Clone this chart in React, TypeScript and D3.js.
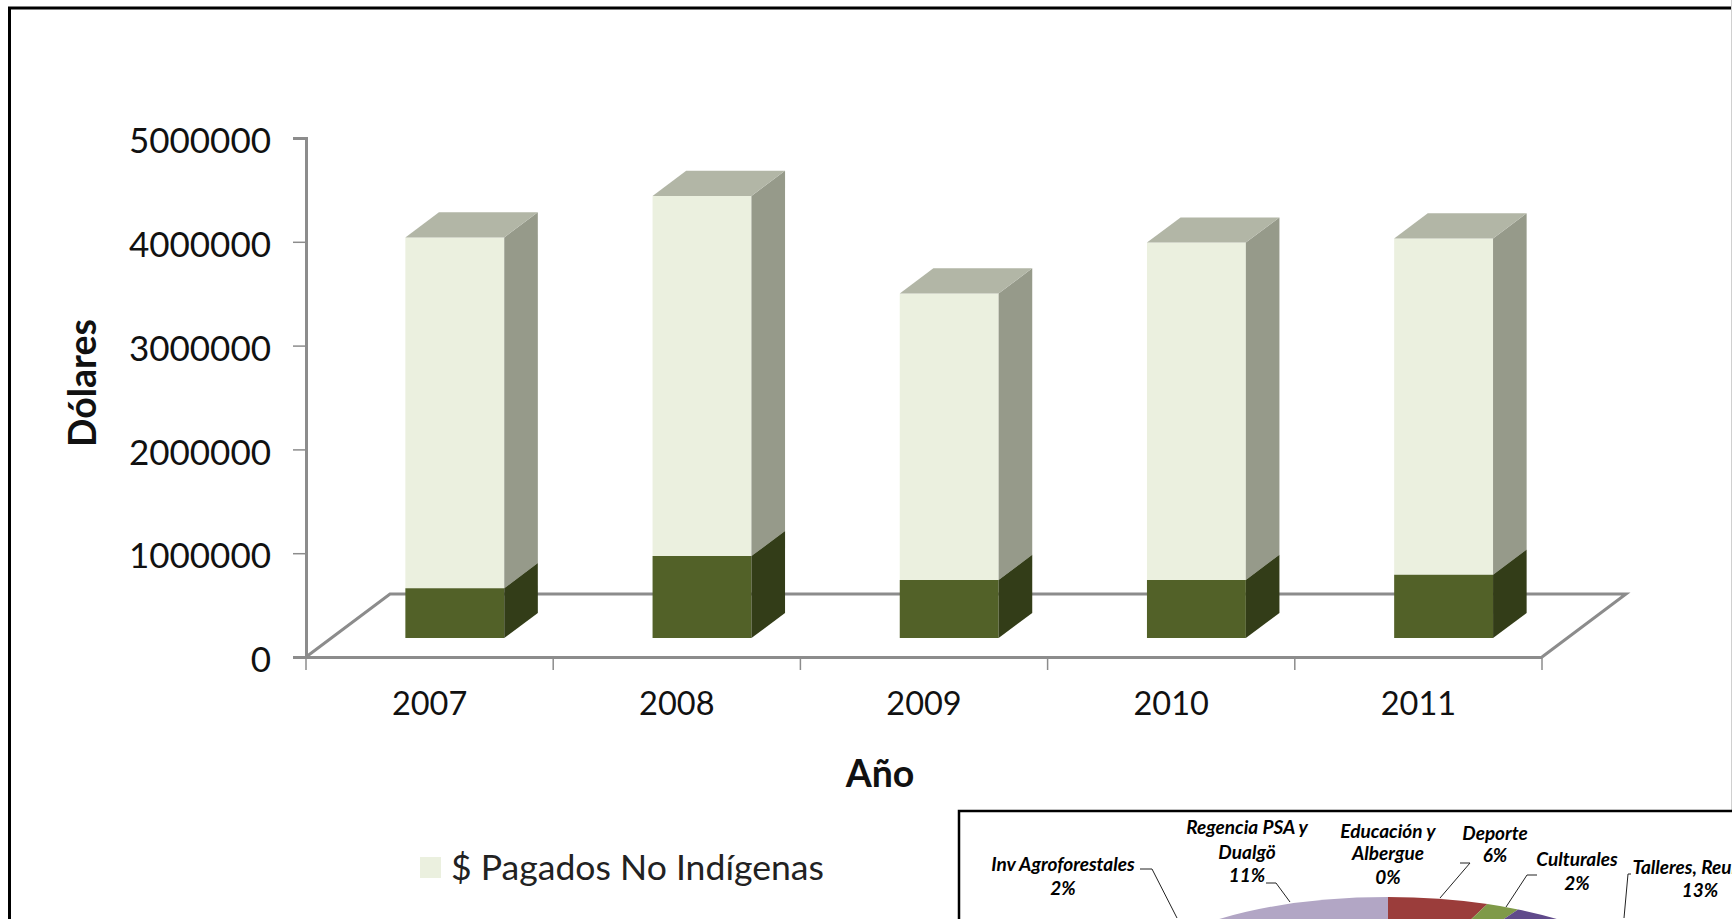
import * as d3 from "d3";
import { useEffect, useRef } from "react";

const years = ["2007", "2008", "2009", "2010", "2011"];
const indigenas = [480000, 790000, 560000, 560000, 610000];
const noIndigenas = [3380000, 3470000, 2760000, 3250000, 3240000];
const yTicks = [0, 1000000, 2000000, 3000000, 4000000, 5000000];

// clockwise from 12 o'clock, "Resto" is below the crop of the picture
const pieNames = ["Deporte", "Culturales", "Talleres", "Resto", "Inv Agroforestales", "Regencia", "Educación"];
const pieValues = [6, 2, 13, 66, 2, 11, 0];
const pieColors = ["#9b3d3b", "#7f9a48", "#604a8b", "#ffffff", "#4bacc6", "#b2a6c5", "#ffffff"];

const FONT = "Lato, 'Noto Sans', sans-serif";

export default function App() {
  const ref = useRef<SVGSVGElement>(null);

  useEffect(() => {
    if (!ref.current) return;
    const svg = d3.select(ref.current);
    svg.selectAll("*").remove();

    const left = 306;
    const right = 1542;
    const bottom = 657;
    const top = 138;
    const depthX = 84;
    const depthY = 63;
    const barFront = 0.3;
    const barBack = 0.7;

    const x = d3.scaleBand<string>().domain(years).range([left, right]).paddingInner(0.6).paddingOuter(0.3);
    const xCenter = d3.scaleBand<string>().domain(years).range([left, right]);
    const y = d3.scaleLinear().domain([0, 5000000]).range([bottom, top]);

    // outer frame
    svg.append("rect").attr("x", 9.5).attr("y", 8).attr("width", 1760).attr("height", 960)
      .attr("fill", "#fff").attr("stroke", "#000").attr("stroke-width", 3);
    svg.append("line").attr("x1", 1731.5).attr("x2", 1731.5).attr("y1", 0).attr("y2", 919)
      .attr("stroke", "#d0d0d0").attr("stroke-width", 1);

    // floor
    const axisGrey = "#8c8c8c";
    svg.append("path")
      .attr("d", d3.line()([
        [left, bottom],
        [left + depthX, bottom - depthY],
        [right + depthX, bottom - depthY],
        [right, bottom],
      ]))
      .attr("fill", "none").attr("stroke", axisGrey).attr("stroke-width", 3);

    // axes
    const yAxis = svg.append("g").attr("transform", `translate(${left},0)`)
      .call(d3.axisLeft(y).tickValues(yTicks).tickFormat(d3.format("d") as any).tickSize(13).tickPadding(22));
    yAxis.selectAll("line").attr("stroke", axisGrey).attr("stroke-width", 1.5);
    yAxis.select(".domain").attr("stroke", axisGrey).attr("stroke-width", 3);
    yAxis.selectAll("text").attr("font-family", FONT).attr("font-size", 35).attr("fill", "#111").attr("dy", "0.42em");

    const xAxis = svg.append("g").attr("transform", `translate(0,${bottom})`)
      .call(d3.axisBottom(xCenter).tickSize(0).tickPadding(35));
    xAxis.select(".domain").attr("stroke", axisGrey).attr("stroke-width", 3);
    xAxis.selectAll("text").attr("font-family", FONT).attr("font-size", 32.5).attr("fill", "#111");
    d3.range(years.length + 1).forEach((i) => {
      const tx = left + i * xCenter.step();
      svg.append("line").attr("x1", tx).attr("x2", tx).attr("y1", bottom).attr("y2", bottom + 13)
        .attr("stroke", axisGrey).attr("stroke-width", 1.5);
    });

    // 3D stacked bars
    const px = (v: number, d: number) => v + d * depthX;
    const py = (v: number, d: number) => y(v) - d * depthY;
    const poly = (pts: [number, number][]) => d3.line()(pts) + "Z";

    const drawBlock = (year: string, v0: number, v1: number, front: string, side: string, topFill: string | null) => {
      const a = x(year)!;
      const b = a + x.bandwidth();
      svg.append("path")
        .attr("d", poly([
          [px(a, barFront), py(v0, barFront)],
          [px(b, barFront), py(v0, barFront)],
          [px(b, barFront), py(v1, barFront)],
          [px(a, barFront), py(v1, barFront)],
        ]))
        .attr("fill", front);
      svg.append("path")
        .attr("d", poly([
          [px(b, barFront), py(v0, barFront)],
          [px(b, barBack), py(v0, barBack)],
          [px(b, barBack), py(v1, barBack)],
          [px(b, barFront), py(v1, barFront)],
        ]))
        .attr("fill", side);
      if (topFill) {
        svg.append("path")
          .attr("d", poly([
            [px(a, barFront), py(v1, barFront)],
            [px(b, barFront), py(v1, barFront)],
            [px(b, barBack), py(v1, barBack)],
            [px(a, barBack), py(v1, barBack)],
          ]))
          .attr("fill", topFill);
      }
    };

    years.forEach((yr, i) => {
      const total = indigenas[i] + noIndigenas[i];
      drawBlock(yr, indigenas[i], total, "#ebf0df", "#969a8a", "#b2b6a6");
      drawBlock(yr, 0, indigenas[i], "#526128", "#333d18", null);
    });

    // axis titles
    svg.append("text").attr("transform", "translate(81,383) rotate(-90)")
      .attr("text-anchor", "middle").attr("dominant-baseline", "central")
      .attr("font-family", FONT).attr("font-size", 37.5).attr("font-weight", 700).attr("fill", "#111")
      .text("Dólares");
    svg.append("text").attr("x", 880).attr("y", 772)
      .attr("text-anchor", "middle").attr("dominant-baseline", "central")
      .attr("font-family", FONT).attr("font-size", 37.5).attr("font-weight", 700).attr("fill", "#111")
      .text("Año");

    // legend
    svg.append("rect").attr("x", 420).attr("y", 857).attr("width", 21).attr("height", 21).attr("fill", "#ebf0df");
    svg.append("text").attr("x", 451).attr("y", 880)
      .attr("font-family", FONT).attr("font-size", 35.6).attr("fill", "#222")
      .text("$ Pagados No Indígenas");

    // inset pie chart, cut by the edge of the picture
    svg.append("rect").attr("x", 959).attr("y", 811).attr("width", 900).attr("height", 300)
      .attr("fill", "#fff").attr("stroke", "#000").attr("stroke-width", 2.5);

    const pieGen = d3.pie<number>().sort(null);
    const arcGen = d3.arc<d3.PieArcDatum<number>>().innerRadius(0).outerRadius(270);
    const pieG = svg.append("g").attr("transform", "translate(1388,897) translate(0,100) scale(1,0.37)");
    pieG.selectAll("path").data(pieGen(pieValues)).join("path")
      .attr("d", arcGen as any)
      .attr("data-name", (_, i) => pieNames[i])
      .attr("fill", (_, i) => pieColors[i]);

    const labels: [string, number, number[]][] = [
      ["Inv Agroforestales|2%", 1063, [871, 895]],
      ["Regencia PSA y|Dualgö|11%", 1247, [834, 859, 882]],
      ["Educación y|Albergue|0%", 1388, [838, 860, 884]],
      ["Deporte|6%", 1495, [840, 862]],
      ["Culturales|2%", 1577, [866, 890]],
      ["Talleres, Reuniones", 1708, [874]],
      ["13%", 1700, [897]],
    ];
    labels.forEach(([txt, cx, ys]) => {
      txt.split("|").forEach((line, i) => {
        svg.append("text").attr("x", cx).attr("y", ys[i]).attr("text-anchor", "middle")
          .attr("font-family", FONT).attr("font-size", 19).attr("font-weight", 700)
          .attr("font-style", "italic").attr("fill", "#000")
          .text(line);
      });
    });

    const leaders: [number, number][][] = [
      [[1140, 869], [1152, 869], [1177, 918]],
      [[1266, 883], [1276, 883], [1290, 902]],
      [[1460, 863], [1470, 863], [1440, 898]],
      [[1537, 875], [1527, 875], [1506, 907]],
      [[1631, 874], [1628, 874], [1624, 918]],
    ];
    leaders.forEach((pts) => {
      svg.append("path").attr("d", d3.line()(pts)).attr("fill", "none").attr("stroke", "#222").attr("stroke-width", 1);
    });
  }, []);

  return (
    <svg
      ref={ref}
      width={1732}
      height={919}
      style={{ position: "absolute", left: 0, top: 0, display: "block" }}
    />
  );
}
